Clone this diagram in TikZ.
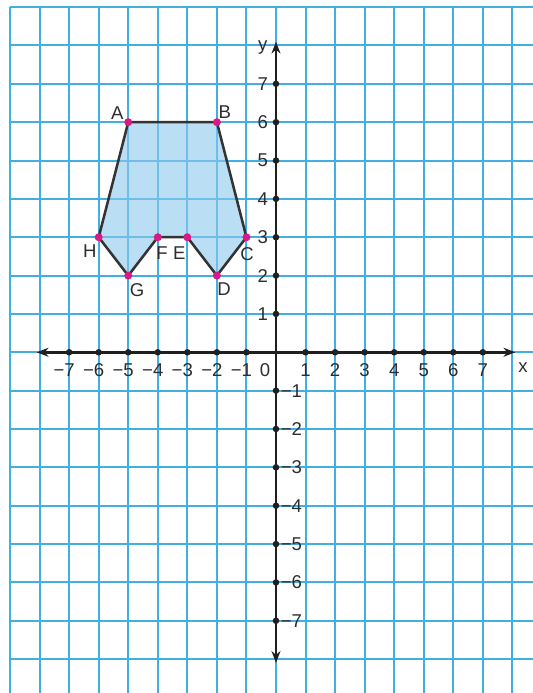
\documentclass[tikz,border=0pt]{standalone}
\usepackage{fontspec}
\setmainfont{Liberation Sans}
\usetikzlibrary{arrows.meta}
\definecolor{gridblue}{RGB}{65,175,226}
\definecolor{shapefill}{RGB}{140,200,238}
\definecolor{ptmag}{RGB}{218,25,135}
\definecolor{txtgray}{RGB}{45,45,45}
\begin{document}
\begin{tikzpicture}[x=0.7cm,y=0.9085cm,
  gridline/.style={gridblue,line width=1.35pt},
  axisline/.style={black!88,line width=1.75pt,{Stealth[length=8pt,width=6pt]}-{Stealth[length=8pt,width=6pt]}},
  tickdot/.style={fill=black!88},
  edge/.style={draw=black!80,line width=1.7pt,line join=round},
  vdot/.style={fill=ptmag},
  lbl/.style={text=txtgray,font=\fontsize{12.5}{14}\selectfont,inner sep=0pt}]
\useasboundingbox (-9.34,-8.884) rectangle (8.697,9.186);
\fill[white] (-9.34,-8.884) rectangle (8.697,9.186);
% grid
\foreach \i in {-9,...,8} \draw[gridline] (\i,9) -- (\i,-8.884);
\foreach \j in {-8,...,9} \draw[gridline] (-9,\j) -- (8.697,\j);
% polygon
\coordinate (A) at (-5,6);
\coordinate (B) at (-2,6);
\coordinate (C) at (-1,3);
\coordinate (D) at (-2,2);
\coordinate (E) at (-3,3);
\coordinate (F) at (-4,3);
\coordinate (G) at (-5,2);
\coordinate (H) at (-6,3);
\fill[shapefill,fill opacity=0.6] (A) -- (B) -- (C) -- (D) -- (E) -- (F) -- (G) -- (H) -- cycle;
% axes
\coordinate (xl) at (-8.1,0);
\coordinate (xr) at (8.1,0);
\coordinate (yb) at (0,-8.1);
\coordinate (yt) at (0,8.1);
\draw[axisline] (xl) -- (xr);
\draw[axisline] (yb) -- (yt);
\foreach \i in {-7,...,-1,1,2,...,7} {
  \fill[tickdot] (\i,0) circle (2.2pt);
  \fill[tickdot] (0,\i) circle (2.2pt);
}
% axis labels
\foreach \i in {1,...,7} {
  \node[lbl] (xp\i) at (\i,-0.47) {\i};
  \node[lbl] (xn\i) at (-\i-0.17,-0.47) {−\i};
  \node[lbl] (yp\i) at (-0.45,\i) {\i};
  \node[lbl] (yn\i) at (0.52,-\i) {−\i};
}
\node[lbl] (zero) at (-0.37,-0.47) {0};
\node[lbl] (xlab) at (8.36,-0.4) {x};
\node[lbl] (ylab) at (-0.45,7.94) {y};
% polygon edges
\draw[edge] (A) -- (B) -- (C) -- (D) -- (E) -- (F) -- (G) -- (H) -- cycle;
\foreach \p in {A,B,C,D,E,F,G,H} \fill[vdot] (\p) circle (2.7pt);
% vertex labels
\node[lbl] (lA) at (-5.37,6.23) {A};
\node[lbl] (lB) at (-1.73,6.26) {B};
\node[lbl] (lC) at (-0.98,2.56) {C};
\node[lbl] (lD) at (-1.76,1.66) {D};
\node[lbl] (lE) at (-3.27,2.58) {E};
\node[lbl] (lF) at (-3.86,2.58) {F};
\node[lbl] (lG) at (-4.70,1.63) {G};
\node[lbl] (lH) at (-6.30,2.63) {H};
\end{tikzpicture}
\end{document}
